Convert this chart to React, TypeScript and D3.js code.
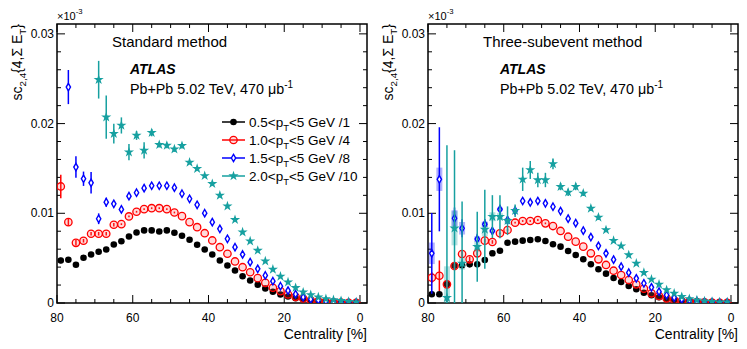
import React, { useEffect, useRef } from 'react';
import * as d3 from 'd3';

// centrality bin centres [%]
const centrality = [79, 77, 75, 73, 71, 69, 67, 65, 63, 61, 59, 57, 55, 53, 51, 49, 47, 45, 43, 41,
  39, 37, 35, 33, 31, 29, 27, 25, 23, 21, 19, 17, 15, 13, 11, 9, 7, 5, 3, 1];

// pT selections (legend)
const ptLow = ['0.5', '1.0', '1.5', '2.0'];
const scaleDiv = ['/1', '/4', '/8', '/10'];
const colors = ['#000000', '#ff0000', '#0000ff', '#16a0a0'];

// Standard method
const stdBlack = [0.00474, 0.00482, 0.00426, 0.00504, 0.00541, 0.00571, 0.00597, 0.00652, 0.00689, 0.00742,
  0.00786, 0.00809, 0.00809, 0.00797, 0.00809, 0.00783, 0.00749, 0.00705, 0.00649, 0.00597,
  0.00541, 0.00474, 0.00418, 0.00362, 0.00299, 0.00251, 0.00203, 0.00162, 0.00125, 0.00095,
  0.00072, 0.00054, 0.00042, 0.0003, 0.00024, 0.00015, 0.0001, 0.00006, 0.00003, 0.00001];
const stdRed = [0.01299, 0.00901, 0.00671, 0.00694, 0.00772, 0.00772, 0.00772, 0.00872, 0.00879, 0.00965,
  0.01017, 0.01046, 0.01057, 0.01057, 0.01046, 0.01009, 0.00968, 0.00901, 0.00845, 0.00778,
  0.00697, 0.00622, 0.00549, 0.00463, 0.00399, 0.00343, 0.00277, 0.00225, 0.0017, 0.00132,
  0.00095, 0.00069, 0.0005, 0.0003, 0.0002, 0.00012, 0.00008, 0.00005, 0.00003, 0.00002];
const stdBlue = [null, 0.02407, 0.01515, 0.01385, 0.0134, 0.00939, 0.01124, 0.01106, 0.01043, 0.01191,
  0.01229, 0.0128, 0.01307, 0.01307, 0.01307, 0.01285, 0.01218, 0.01162, 0.01095, 0.01001,
  0.00901, 0.00827, 0.00716, 0.00622, 0.00541, 0.00455, 0.00381, 0.00307, 0.00243, 0.00187,
  0.00139, 0.00098, 0.00065, 0.00042, 0.0003, 0.0002, 0.00012, 0.00008, 0.00005, 0.00003];
const stdTeal = [null, null, null, null, null, 0.02489, 0.02072, 0.01887, 0.01979, 0.01682,
  0.01868, 0.01701, 0.01898, 0.01764, 0.01756, 0.01715, 0.01753, 0.01567, 0.01497, 0.01418,
  0.01329, 0.01199, 0.0108, 0.00928, 0.0079, 0.00689, 0.00585, 0.00466, 0.00374, 0.00296,
  0.00232, 0.0017, 0.0012, 0.00091, 0.00065, 0.00045, 0.00035, 0.00025, 0.00015, 0.0001];

const stdBlackErr = [0.0003, 0.0002, 0.0002, 0.0001, 0.0001, 0.0001, 0, 0, 0, 0, 0, 0, 0, 0, 0, 0, 0, 0, 0, 0,
  0, 0, 0, 0, 0, 0, 0, 0, 0, 0, 0, 0, 0, 0, 0, 0, 0, 0, 0, 0];
const stdRedErr = [0.0013, 0.0004, 0.0003, 0.0002, 0.0002, 0.0002, 0.0002, 0.0002, 0.0001, 0.0001,
  0.0001, 0.0001, 0.0001, 0.0001, 0.0001, 0.0001, 0, 0, 0, 0, 0, 0, 0, 0, 0, 0, 0, 0, 0, 0,
  0, 0, 0, 0, 0, 0, 0, 0, 0, 0];
const stdBlueErr = [0, 0.0019, 0.0012, 0.0008, 0.0012, 0.0006, 0.0005, 0.0003, 0.0003, 0.0003,
  0.0002, 0.0002, 0.0002, 0.0002, 0.0002, 0.0002, 0.0002, 0.0001, 0.0001, 0.0001,
  0.0001, 0.0001, 0.0001, 0.0001, 0.0001, 0, 0, 0, 0, 0, 0, 0, 0, 0, 0, 0, 0, 0, 0, 0];
const stdTealErr = [0, 0, 0, 0, 0, 0.0021, 0.0024, 0.0011, 0.0009, 0.0009,
  0.0005, 0.0009, 0.0004, 0.0003, 0.0003, 0.0003, 0.0003, 0.0002, 0.0002, 0.0002,
  0.0002, 0.0002, 0.0002, 0.0002, 0.0001, 0.0001, 0.0001, 0.0001, 0.0001, 0.0001,
  0, 0, 0, 0, 0, 0, 0, 0, 0, 0];

// Three-subevent method
const subBlack = [0.00097, 0.00097, 0.0021, 0.00416, 0.0042, 0.00431, 0.00431, 0.00479, 0.00554, 0.00583,
  0.00672, 0.00684, 0.00695, 0.00702, 0.0071, 0.00691, 0.00655, 0.00628, 0.0058, 0.00535,
  0.00488, 0.00432, 0.00376, 0.00327, 0.00279, 0.00234, 0.0019, 0.00153, 0.00115, 0.00086,
  0.00064, 0.00045, 0.00034, 0.00023, 0.00018, 0.00014, 0.0001, 0.00008, 0.00007, 0.00006];
const subRed = [0.00282, 0.00304, 0.00208, 0.00412, 0.00546, 0.00487, 0.00554, 0.00695, 0.0068, 0.00777,
  0.00814, 0.00895, 0.00914, 0.00914, 0.00925, 0.00888, 0.00858, 0.00803, 0.00739, 0.00684,
  0.00628, 0.00554, 0.00487, 0.00424, 0.0036, 0.00312, 0.00256, 0.00208, 0.0016, 0.00108,
  0.00078, 0.00052, 0.00033, 0.00022, 0.00015, 0.0001, 0.00007, 0.00004, 0.00003, 0.00002];
const subBlue = [0.00554, 0.01379, null, 0.00944, 0.00833, null, 0.00713, 0.00877, 0.00803, 0.01044,
  0.00925, 0.01029, 0.01137, 0.01122, 0.01137, 0.01111, 0.01073, 0.01025, 0.0094, 0.0089,
  0.00806, 0.00735, 0.00637, 0.00554, 0.00483, 0.00405, 0.00338, 0.00275, 0.0022, 0.00175,
  0.00126, 0.00089, 0.00059, 0.00041, 0.0003, 0.0002, 0.00012, 0.00008, 0.00005, 0.00003];
const subTeal = [null, null, 0.00059, 0.00833, 0.00442, null, 0.00628, 0.00821, 0.00962, 0.00962,
  0.00917, 0.01029, 0.01379, 0.01483, 0.01371, 0.01371, 0.0155, 0.01297, 0.01234, 0.01297,
  0.01223, 0.01055, 0.00955, 0.00814, 0.00695, 0.00635, 0.00535, 0.00442, 0.00338, 0.00264,
  0.00208, 0.00145, 0.00108, 0.0007, 0.00045, 0.00033, 0.00022, 0.00015, 0.0001, 0.0001];

const subBlackErr = [0.0002, 0.0002, 0.0002, 0.0002, 0.0001, 0.0001, 0.0001, 0, 0, 0, 0, 0, 0, 0, 0, 0, 0, 0, 0, 0,
  0, 0, 0, 0, 0, 0, 0, 0, 0, 0, 0, 0, 0, 0, 0, 0, 0, 0, 0, 0];
const subRedErr = [0.0006, 0.0017, 0.0005, 0.0003, 0.0003, 0.0003, 0.0002, 0.0002, 0.0002, 0.0001,
  0.0001, 0.0001, 0.0001, 0.0001, 0.0001, 0.0001, 0, 0, 0, 0, 0, 0, 0, 0, 0, 0, 0, 0, 0, 0,
  0, 0, 0, 0, 0, 0, 0, 0, 0, 0];
const subBlueErr = [0.0045, 0.0058, 0, 0.0012, 0.001, 0, 0.0006, 0.0006, 0.0004, 0.0005,
  0.0004, 0.0003, 0.0002, 0.0002, 0.0002, 0.0002, 0.0002, 0.0002, 0.0001, 0.0001,
  0.0001, 0.0001, 0.0001, 0.0001, 0, 0, 0, 0, 0, 0, 0, 0, 0, 0, 0, 0, 0, 0, 0, 0];
const subTealErr = [0, 0, 0.017, 0.0087, 0.0069, 0, 0.0039, 0.0044, 0.0024, 0.0024,
  0.0016, 0.0007, 0.0013, 0.001, 0.0008, 0.0008, 0.0006, 0.0004, 0.0004, 0.0004,
  0.0003, 0.0003, 0.0003, 0.0002, 0.0002, 0.0002, 0.0002, 0.0001, 0.0001, 0.0001,
  0, 0, 0, 0, 0, 0, 0, 0, 0, 0];
// systematic boxes (only visible ones)
const subBlueSys = [0.0012, 0.0013, 0, 0.0009, 0.0007, 0, 0.0003, 0.0003, 0.0002, 0.0002,
  0, 0, 0, 0, 0, 0, 0, 0, 0, 0, 0, 0, 0, 0, 0, 0, 0, 0, 0, 0, 0, 0, 0, 0, 0, 0, 0, 0, 0, 0];
const subTealSys = [0, 0, 0.0035, 0.0019, 0.0007, 0, 0.0006, 0.0008, 0.0005, 0.0004,
  0.0003, 0, 0, 0, 0, 0, 0, 0, 0, 0, 0, 0, 0, 0, 0, 0, 0, 0, 0, 0, 0, 0, 0, 0, 0, 0, 0, 0, 0, 0];

const FONT = "'Liberation Sans', Arial, Helvetica, sans-serif";

// write text made of normal / sub / sup pieces
const richText = (sel, parts, size) => {
  let shift = 0;
  parts.forEach(([txt, mode]) => {
    const target = mode === 'sub' ? 4 : mode === 'sup' ? -6 : 0;
    sel.append('tspan')
      .attr('dy', target - shift)
      .attr('font-size', mode ? size * 0.7 : size)
      .text(txt);
    shift = target;
  });
};

const drawMarker = (g, k, cx, cy) => {
  if (k === 0) {
    g.append('circle').attr('cx', cx).attr('cy', cy).attr('r', 3.3).attr('fill', colors[0]);
  } else if (k === 1) {
    g.append('circle').attr('cx', cx).attr('cy', cy).attr('r', 3.7)
      .attr('fill', 'rgba(255,90,90,0.22)').attr('stroke', colors[1]).attr('stroke-width', 1.3);
  } else if (k === 2) {
    g.append('path').attr('d', d3.symbol(d3.symbolDiamond, 16)())
      .attr('transform', `translate(${cx},${cy})`)
      .attr('fill', '#fff').attr('stroke', colors[2]).attr('stroke-width', 1.4);
  } else {
    g.append('path').attr('d', d3.symbol(d3.symbolStar, 32)())
      .attr('transform', `translate(${cx},${cy})`)
      .attr('fill', colors[3]);
  }
};

const App = () => {
  const svgRef = useRef(null);

  useEffect(() => {
    const svg = d3.select(svgRef.current);
    svg.selectAll('*').remove();

    const top = 24, bottom = 303, panelW = 310;

    const panels = [
      {
        x0: 57, title: 'Standard method', titleX: 112, infoX: 130,
        values: [stdBlack, stdRed, stdBlue, stdTeal],
        errs: [stdBlackErr, stdRedErr, stdBlueErr, stdTealErr],
        sys: [null, null, null, null], legend: true,
      },
      {
        x0: 428, title: 'Three-subevent method', titleX: 483, infoX: 500,
        values: [subBlack, subRed, subBlue, subTeal],
        errs: [subBlackErr, subRedErr, subBlueErr, subTealErr],
        sys: [null, null, subBlueSys, subTealSys], legend: false,
      },
    ];

    panels.forEach((p, pi) => {
      const x = d3.scaleLinear().domain([80, -1.85]).range([p.x0, p.x0 + panelW]);
      const y = d3.scaleLinear().domain([0, 0.0311]).range([bottom, top]);
      const x1 = p.x0 + panelW;

      const clipId = `clip-${pi}`;
      svg.append('clipPath').attr('id', clipId)
        .append('rect').attr('x', p.x0).attr('y', top).attr('width', panelW).attr('height', bottom - top);

      const axes = svg.append('g').attr('stroke', '#000').attr('stroke-width', 1);
      // x ticks (bottom + top)
      const xMinor = d3.range(0, 81, 5);
      xMinor.forEach(v => {
        const len = v % 20 === 0 ? 8 : 4;
        axes.append('line').attr('x1', x(v)).attr('x2', x(v)).attr('y1', bottom).attr('y2', bottom - len);
        axes.append('line').attr('x1', x(v)).attr('x2', x(v)).attr('y1', top).attr('y2', top + len);
      });
      // y ticks (left + right)
      const yMinor = d3.range(0, 0.0305, 0.002);
      yMinor.forEach(v => {
        const major = Math.abs(v / 0.01 - Math.round(v / 0.01)) < 1e-6;
        const len = major ? 8 : 4;
        axes.append('line').attr('x1', p.x0).attr('x2', p.x0 + len).attr('y1', y(v)).attr('y2', y(v));
        axes.append('line').attr('x1', x1).attr('x2', x1 - len).attr('y1', y(v)).attr('y2', y(v));
      });
      svg.append('rect').attr('x', p.x0).attr('y', top).attr('width', panelW).attr('height', bottom - top)
        .attr('fill', 'none').attr('stroke', '#000').attr('stroke-width', 1.5);

      // tick labels
      x.ticks(4).forEach(v => {
        svg.append('text').attr('x', x(v)).attr('y', 322).attr('text-anchor', 'middle')
          .attr('font-family', FONT).attr('font-size', 12).text(d3.format('d')(v));
      });
      y.ticks(3).forEach(v => {
        svg.append('text').attr('x', p.x0 - 3).attr('y', y(v)).attr('dy', '0.35em').attr('text-anchor', 'end')
          .attr('font-family', FONT).attr('font-size', 12).text(v === 0 ? '0' : d3.format('.2f')(v));
      });
      const mult = svg.append('text').attr('x', p.x0).attr('y', 20)
        .attr('font-family', FONT).attr('font-size', 11);
      richText(mult, [['×10', null], ['-3', 'sup']], 11);

      // axis titles
      svg.append('text').attr('x', x1).attr('y', 339).attr('text-anchor', 'end')
        .attr('font-family', FONT).attr('font-size', 14).text('Centrality [%]');
      const yt = svg.append('text')
        .attr('transform', `translate(${p.x0 - 35},${top}) rotate(-90)`)
        .attr('text-anchor', 'end').attr('font-family', FONT).attr('font-size', 14);
      richText(yt, [['sc', null], ['2,4', 'sub'], ['{4,Σ E', null], ['T', 'sub'], ['}', null]], 14);

      // labels
      svg.append('text').attr('x', p.titleX).attr('y', 47).attr('font-family', FONT).attr('font-size', 15).text(p.title);
      svg.append('text').attr('x', p.infoX).attr('y', 74).attr('font-family', FONT).attr('font-size', 14)
        .attr('font-weight', 'bold').attr('font-style', 'italic').text('ATLAS');
      const info = svg.append('text').attr('x', p.infoX).attr('y', 94).attr('font-family', FONT).attr('font-size', 14.3);
      richText(info, [['Pb+Pb 5.02 TeV, 470 μb', null], ['-1', 'sup']], 14.3);

      // data
      const plot = svg.append('g').attr('clip-path', `url(#${clipId})`);
      p.values.forEach((vals, k) => {
        const sys = p.sys[k];
        if (sys) {
          centrality.forEach((c, i) => {
            if (vals[i] == null || !sys[i]) return;
            plot.append('rect').attr('x', x(c) - 3).attr('width', 6)
              .attr('y', y(vals[i] + sys[i])).attr('height', y(vals[i] - sys[i]) - y(vals[i] + sys[i]))
              .attr('fill', colors[k]).attr('opacity', 0.3);
          });
        }
      });
      p.values.forEach((vals, k) => {
        const errs = p.errs[k];
        centrality.forEach((c, i) => {
          if (vals[i] == null) return;
          if (errs[i]) {
            plot.append('line').attr('x1', x(c)).attr('x2', x(c))
              .attr('y1', y(vals[i] - errs[i])).attr('y2', y(vals[i] + errs[i]))
              .attr('stroke', colors[k]).attr('stroke-width', 1.5);
          }
          drawMarker(plot, k, x(c), y(vals[i]));
        });
      });

      // legend
      if (p.legend) {
        const rows = [122, 140, 158, 176];
        ptLow.forEach((lo, k) => {
          svg.append('line').attr('x1', 222).attr('x2', 245).attr('y1', rows[k]).attr('y2', rows[k])
            .attr('stroke', colors[k]).attr('stroke-width', 1.5);
          drawMarker(svg, k, 233.5, rows[k]);
          const t = svg.append('text').attr('x', 249).attr('y', rows[k] + 5)
            .attr('font-family', FONT).attr('font-size', 13.5);
          richText(t, [[`${lo}<p`, null], ['T', 'sub'], [`<5 GeV ${scaleDiv[k]}`, null]], 13.5);
        });
      }
    });
  }, []);

  return (
    <svg ref={svgRef} width={747} height={349}
      style={{ position: 'absolute', left: 0, top: 0, background: '#fff' }} />
  );
};

export default App;
